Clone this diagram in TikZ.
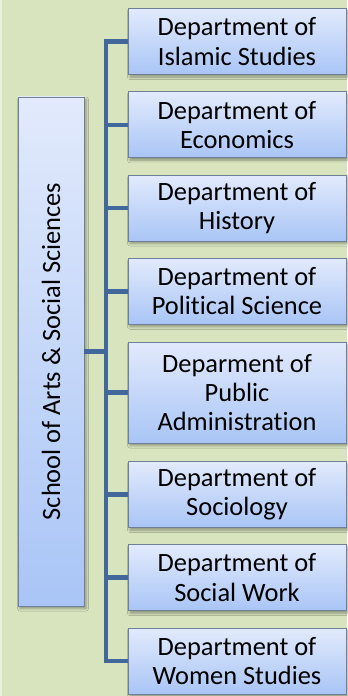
\documentclass[tikz,border=0pt]{standalone}
\usepackage{fontspec}
\setmainfont[Ligatures={NoCommon}]{Carlito}
\usetikzlibrary{shadows.blur}
\definecolor{bg}{HTML}{D8E4BE}
\definecolor{bgedge}{HTML}{E9F0DC}
\definecolor{conn}{HTML}{41679B}
\definecolor{boxtop}{HTML}{E2EAFC}
\definecolor{boxbot}{HTML}{A9C5F6}
\definecolor{boxline}{HTML}{6F7F99}
\tikzset{
  deptbox/.style={draw=boxline, line width=0.8bp, rectangle,
    top color=boxtop, bottom color=boxbot,
    minimum width=218bp, minimum height=66bp, inner sep=0pt,
    align=center, font=\fontsize{26.5}{29.5}\selectfont,
    blur shadow={shadow xshift=2bp, shadow yshift=-2.5bp, shadow blur radius=2.5bp, shadow opacity=35}},
  connline/.style={draw=conn, line width=4.5bp},
}
\begin{document}
\begin{tikzpicture}[x=1bp, y=-1bp]
\fill[bg] (0,0) rectangle (347,696);
\fill[bgedge] (0,0) rectangle (2,696);
\useasboundingbox (0,0) rectangle (347,696);

\node[deptbox, minimum width=66bp, minimum height=509bp] (school) at (51,351.5)
  {\rotatebox{90}{School of Arts \& Social Sciences}};

\node[deptbox] (d1) at (237,41.5) {Department of\\Islamic Studies};
\node[deptbox] (d2) at (237,124.8) {Department of\\Economics};
\node[deptbox] (d3) at (237,208) {Department of\\History};
\node[deptbox] (d4) at (237,291.3) {Department of\\Political Science};
\node[deptbox, minimum height=101bp] (d5) at (237,392.5) {Deparment of\\Public\\Administration};
\node[deptbox] (d6) at (237,494.5) {Department of\\Sociology};
\node[deptbox] (d7) at (237,577.7) {Department of\\Social Work};
\node[deptbox] (d8) at (237,661) {Department of\\Women Studies};

\coordinate (bus) at (106,351.5);
\draw[connline, line join=miter] (d1.west) -- (bus |- d1.west) -- (bus |- d8.west) -- (d8.west);
\draw[connline] (school.east) -- (bus |- school.east);
\foreach \n in {d2,d3,d4,d5,d6,d7}
  \draw[connline] (bus |- \n.west) -- (\n.west);
\end{tikzpicture}
\end{document}
